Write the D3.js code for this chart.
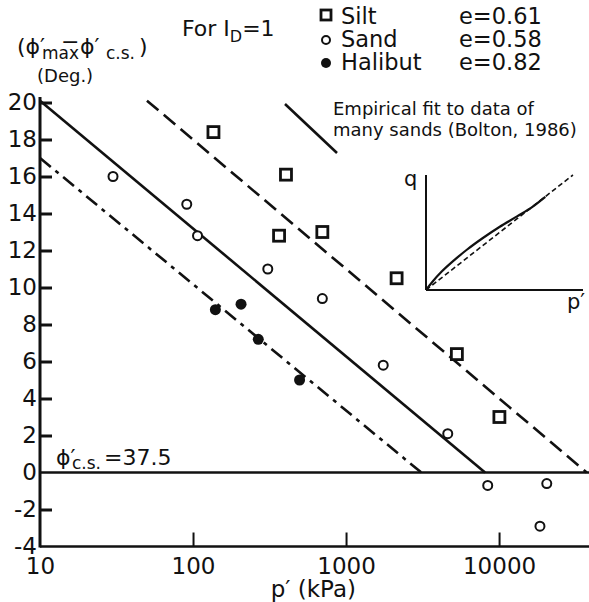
<!DOCTYPE html>
<html>
  <head>
    <title>Peak friction angle vs p'</title>
    <style>
      body {
        margin: 0px;
        overflow: hidden;
        background: #fff;
      }
      text { font-family: "DejaVu Sans", Verdana, sans-serif; fill: #111; }
    </style>
    <script src="https://d3js.org/d3.v7.min.js"></script>
  </head>
  <body>

    <svg width="589" height="602"></svg>

    <script>
      // tick values
      const pTicks = [10, 100, 1000, 10000];
      const dTicks = [-4, -2, 0, 2, 4, 6, 8, 10, 12, 14, 16, 18, 20];

      // data: p' (kPa) and phi'max - phi'cs (deg)
      const siltP = [136, 405, 365, 700, 2140, 5300, 10050];
      const siltD = [18.4, 16.1, 12.8, 13.0, 10.5, 6.4, 3.0];
      const sandP = [30, 91, 107, 308, 700, 1750, 4620, 8430, 20500, 18500];
      const sandD = [16.0, 14.5, 12.8, 11.0, 9.4, 5.8, 2.1, -0.7, -0.6, -2.9];
      const halibutP = [140, 206, 267, 497];
      const halibutD = [8.8, 9.1, 7.2, 5.0];

      // fitted lines (end points)
      const boltonP = [10, 8100];
      const boltonD = [20.1, 0];
      const siltFitP = [50, 37400];
      const siltFitD = [20.1, 0];
      const halibutFitP = [10, 3100];
      const halibutFitD = [17, 0];

      // inset q - p' sketch (normalised)
      const insetP = [0, 0.04, 0.1, 0.18, 0.26, 0.36, 0.47, 0.58, 0.68, 0.76];
      const insetQ = [0, 0.07, 0.16, 0.26, 0.35, 0.45, 0.55, 0.64, 0.725, 0.81];
      const insetLineP = [0, 0.936];
      const insetLineQ = [0, 1];

      const svg = d3.select('svg');
      const ink = '#111';
      const font = '"DejaVu Sans", Verdana, sans-serif';

      const x = d3.scaleLog().domain([10, 38700]).range([40, 589]);
      const y = d3.scaleLinear().domain([-4, 20]).range([546.5, 102.5]);

      const line = d3.line().x(d => x(d[0])).y(d => y(d[1]));

      // y axis
      const yAxis = d3.axisLeft(y)
        .tickValues(dTicks)
        .tickFormat(d => String(d))
        .tickSizeInner(-12)
        .tickSizeOuter(0)
        .tickPadding(3);
      const gy = svg.append('g')
        .attr('transform', `translate(${x(10)},0)`)
        .call(yAxis);
      gy.select('.domain').remove();
      gy.selectAll('.tick line')
        .attr('stroke', ink)
        .attr('stroke-width', 3)
        .filter(d => d === 0 || d === -4).remove();
      gy.selectAll('.tick text')
        .attr('font-size', 23)
        .attr('font-family', font)
        .attr('fill', ink);

      // x axis
      const xAxis = d3.axisBottom(x)
        .tickValues(pTicks)
        .tickFormat(d3.format('d'))
        .tickSizeInner(-14)
        .tickSizeOuter(0)
        .tickPadding(11);
      const gx = svg.append('g')
        .attr('transform', `translate(0,${y(-4)})`)
        .call(xAxis);
      gx.select('.domain').remove();
      gx.selectAll('.tick line')
        .attr('stroke', ink)
        .attr('stroke-width', 2)
        .filter(d => d === 10).remove();
      gx.selectAll('.tick text')
        .attr('font-size', 23)
        .attr('font-family', font)
        .attr('fill', ink);

      // axis lines and zero line
      svg.append('line')
        .attr('x1', x(10)).attr('x2', x(10))
        .attr('y1', y(20.3)).attr('y2', y(-4) + 1)
        .attr('stroke', ink).attr('stroke-width', 3);
      svg.append('line')
        .attr('x1', x(10)).attr('x2', 589)
        .attr('y1', y(-4)).attr('y2', y(-4))
        .attr('stroke', ink).attr('stroke-width', 2.5);
      svg.append('line')
        .attr('x1', x(10)).attr('x2', 589)
        .attr('y1', y(0)).attr('y2', y(0))
        .attr('stroke', ink).attr('stroke-width', 2.5);

      // fitted lines
      svg.append('path')
        .datum(d3.zip(boltonP, boltonD))
        .attr('d', line)
        .attr('fill', 'none').attr('stroke', ink).attr('stroke-width', 2.6);
      svg.append('path')
        .datum(d3.zip(siltFitP, siltFitD))
        .attr('d', line)
        .attr('fill', 'none').attr('stroke', ink).attr('stroke-width', 2.6)
        .attr('stroke-dasharray', '15,7');
      svg.append('path')
        .datum(d3.zip(halibutFitP, halibutFitD))
        .attr('d', line)
        .attr('fill', 'none').attr('stroke', ink).attr('stroke-width', 2.6)
        .attr('stroke-dasharray', '14,6,4,6');

      // points
      svg.append('g').selectAll('rect')
        .data(d3.zip(siltP, siltD))
        .join('rect')
          .attr('x', d => x(d[0]) - 5.5)
          .attr('y', d => y(d[1]) - 5.5)
          .attr('width', 11).attr('height', 11)
          .attr('fill', '#fff').attr('stroke', ink).attr('stroke-width', 2.8);
      svg.append('g').selectAll('circle')
        .data(d3.zip(sandP, sandD))
        .join('circle')
          .attr('cx', d => x(d[0]))
          .attr('cy', d => y(d[1]))
          .attr('r', 4.5)
          .attr('fill', '#fff').attr('stroke', ink).attr('stroke-width', 2);
      svg.append('g').selectAll('circle')
        .data(d3.zip(halibutP, halibutD))
        .join('circle')
          .attr('cx', d => x(d[0]))
          .attr('cy', d => y(d[1]))
          .attr('r', 5.5)
          .attr('fill', ink);

      // axis titles
      const yt = svg.append('text').attr('font-size', 22);
      yt.append('tspan').attr('x', 17).attr('y', 54).text('(ϕ′');
      yt.append('tspan').attr('x', 42).attr('y', 59).attr('font-size', 17).text('max');
      yt.append('tspan').attr('x', 61).attr('y', 49).text('−');
      yt.append('tspan').attr('x', 80).attr('y', 54).text('ϕ′');
      yt.append('tspan').attr('x', 106).attr('y', 59).attr('font-size', 17).text('c.s.');
      yt.append('tspan').attr('x', 139).attr('y', 54).text(')');
      svg.append('text').attr('x', 37).attr('y', 82).attr('font-size', 18).text('(Deg.)');

      svg.append('text')
        .attr('x', 356).attr('y', 597)
        .attr('text-anchor', 'end')
        .attr('font-size', 23)
        .text('p′ (kPa)');

      // phi_cs note
      const cs = svg.append('text').attr('font-size', 22);
      cs.append('tspan').attr('x', 56).attr('y', 465).text('ϕ′');
      cs.append('tspan').attr('x', 72).attr('y', 469).attr('font-size', 17).text('c.s.');
      cs.append('tspan').attr('x', 104).attr('y', 465).text('=37.5');

      // For I_D = 1
      const fi = svg.append('text').attr('font-size', 22);
      fi.append('tspan').attr('x', 182).attr('y', 36).text('For I');
      fi.append('tspan').attr('font-size', 16).attr('dy', 6).text('D');
      fi.append('tspan').attr('dy', -6).text('=1');

      // legend
      const legend = svg.append('g');
      legend.append('rect')
        .attr('x', 321).attr('y', 10).attr('width', 10).attr('height', 10)
        .attr('fill', '#fff').attr('stroke', ink).attr('stroke-width', 2.8);
      legend.append('circle')
        .attr('cx', 326).attr('cy', 40).attr('r', 4)
        .attr('fill', '#fff').attr('stroke', ink).attr('stroke-width', 2);
      legend.append('circle')
        .attr('cx', 326).attr('cy', 63).attr('r', 5)
        .attr('fill', ink);
      const names = ['Silt', 'Sand', 'Halibut'];
      const voids = ['e=0.61', 'e=0.58', 'e=0.82'];
      names.forEach((n, i) => {
        legend.append('text').attr('x', 341).attr('y', 24 + i * 23)
          .attr('font-size', 22.5).text(n);
        legend.append('text').attr('x', 459).attr('y', 24 + i * 23)
          .attr('font-size', 22.5).text(voids[i]);
      });
      legend.append('line')
        .attr('x1', 285).attr('y1', 104).attr('x2', 337).attr('y2', 153)
        .attr('stroke', ink).attr('stroke-width', 2.6);
      legend.append('text').attr('x', 333).attr('y', 115)
        .attr('font-size', 18).text('Empirical fit to data of');
      legend.append('text').attr('x', 333).attr('y', 136)
        .attr('font-size', 18).text('many sands (Bolton, 1986)');

      // inset sketch
      const ix = d3.scaleLinear().domain([0, 1]).range([426, 583]);
      const iy = d3.scaleLinear().domain([0, 1]).range([290, 175]);
      const inset = svg.append('g');
      inset.append('line')
        .attr('x1', ix(0)).attr('x2', ix(0)).attr('y1', iy(1)).attr('y2', iy(0))
        .attr('stroke', ink).attr('stroke-width', 2);
      inset.append('line')
        .attr('x1', ix(0)).attr('x2', ix(1)).attr('y1', iy(0)).attr('y2', iy(0))
        .attr('stroke', ink).attr('stroke-width', 2);
      inset.append('path')
        .datum(d3.zip(insetLineP, insetLineQ))
        .attr('d', d3.line().x(d => ix(d[0])).y(d => iy(d[1])))
        .attr('fill', 'none').attr('stroke', ink).attr('stroke-width', 1.6)
        .attr('stroke-dasharray', '5,3');
      inset.append('path')
        .datum(d3.zip(insetP, insetQ))
        .attr('d', d3.line().curve(d3.curveMonotoneX).x(d => ix(d[0])).y(d => iy(d[1])))
        .attr('fill', 'none').attr('stroke', ink).attr('stroke-width', 2.2);
      inset.append('text').attr('x', 404).attr('y', 186).attr('font-size', 21).text('q');
      inset.append('text').attr('x', 567).attr('y', 309).attr('font-size', 21).text('p′');
    </script>
  </body>
</html>
